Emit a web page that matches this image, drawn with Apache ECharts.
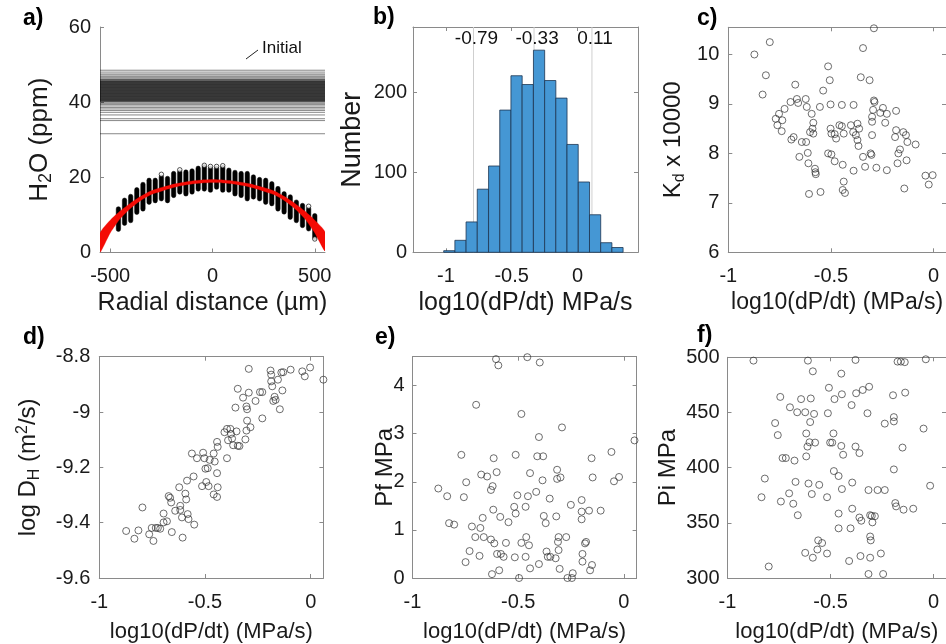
<!DOCTYPE html>
<html><head><meta charset="utf-8">
<script src="https://cdn.jsdelivr.net/npm/echarts@6/dist/echarts.min.js"></script>
<style>html,body{margin:0;padding:0;background:#fff}#c{width:946px;height:644px}</style>
</head><body><div id="c"></div>
<script>
// ---------- DATA ----------
// Panel a: initial H2O levels (ppm)
const initialLevels = [48.5,48.0,47.5,47.2,46.8,46.5,46.2,46.0,45.9,45.7,45.6,45.5,45.4,45.3,45.2,45.1,45.0,44.9,44.8,44.7,44.6,44.5,44.4,44.3,44.2,44.1,44.0,43.9,43.8,43.7,43.6,43.5,43.4,43.3,43.2,43.1,43.0,42.9,42.8,42.7,42.6,42.5,42.4,42.3,42.2,42.1,42.0,41.9,41.8,41.7,41.6,41.5,41.4,41.3,41.2,41.1,41.0,40.9,40.8,40.7,40.6,40.5,40.4,40.3,40.2,40.0,39.7,39.4,39.0,38.6,38.2,37.8,37.3,36.6,35.6,35.1,31.6];
// Panel a: measured profile columns (radial distance, min, max ppm)
const colX    = [-460,-430,-400,-370,-340,-310,-280,-250,-220,-190,-160,-130,-100,-70,-40,-10,20,50,80,110,140,170,200,230,260,290,320,350,380,410,440,470,500];
const colLow  = [6.0,7.6,8.3,10.5,11.4,13.2,13.6,14.1,13.6,15.0,15.9,15.4,15.9,16.7,16.7,16.4,17.2,16.4,16.4,15.4,15.0,14.1,14.6,14.1,13.2,12.8,11.4,10.6,9.2,8.3,7.0,6.1,3.8];
const colHigh = [11.8,14.1,15.1,16.9,18.3,19.4,19.4,20.3,19.9,21.2,21.6,21.6,21.9,22.6,23.0,22.6,22.6,22.8,22.1,21.5,21.2,21.2,20.3,19.6,19.4,18.5,17.2,15.8,15.0,13.6,12.7,11.8,10.0];
const outliers = [[-40,23.2],[-10,22.9],[20,22.9],[50,23.1],[-250,20.8],[470,12.3],[500,3.6],[-160,22.0]];
// Panel a: modelled profile envelope
const redX     = [-550,-500,-450,-400,-350,-300,-250,-200,-150,-100,-50,0,50,100,150,200,250,300,350,400,450,500,550];
const redLower = [0.0,5.2,9.1,11.8,13.85,15.4,16.3,17.15,17.8,18.25,18.5,18.6,18.5,18.25,17.8,17.15,16.3,15.4,13.85,11.8,9.1,5.2,0.4];
const redUpper = [5.2,8.6,11.1,13.2,14.95,16.4,17.3,18.05,18.6,19.05,19.3,19.4,19.3,19.05,18.6,18.05,17.3,16.4,14.95,13.2,11.1,8.6,5.5];
// Panel b: histogram
const binCenters = [-0.974,-0.889,-0.804,-0.719,-0.633,-0.548,-0.463,-0.378,-0.292,-0.207,-0.122,-0.037,0.049,0.134,0.219,0.304];
const binCounts  = [2,15,38,79,108,178,221,210,253,215,193,135,88,47,12,6];
const binWidth = 0.0853;
const pctValues = [-0.79,-0.33,0.11];
// Panel c: Kd x 10000
const cPts = [[-0.291,10.53],[-0.873,10.0],[-0.798,10.25],[-0.817,9.58],[-0.833,9.19],[-0.514,9.76],[-0.344,10.13],[-0.674,9.39],[-0.506,9.48],[-0.538,9.27],[-0.355,9.54],[-0.312,9.48],[-0.666,9.1],[-0.623,9.1],[-0.697,9.04],[-0.66,9.02],[-0.726,8.9],[-0.753,8.8],[-0.769,8.7],[-0.737,8.67],[-0.761,8.57],[-0.74,8.45],[-0.618,8.94],[-0.594,8.8],[-0.554,8.94],[-0.502,8.99],[-0.447,8.98],[-0.39,8.98],[-0.291,9.07],[-0.288,9.04],[-0.295,8.88],[-0.247,8.92],[-0.26,8.82],[-0.228,8.8],[-0.236,8.62],[-0.183,8.86],[-0.3,8.74],[-0.3,8.64],[-0.586,8.62],[-0.59,8.5],[-0.602,8.43],[-0.586,8.4],[-0.682,8.33],[-0.693,8.28],[-0.642,8.23],[-0.621,8.23],[-0.502,8.5],[-0.498,8.4],[-0.482,8.39],[-0.475,8.3],[-0.459,8.57],[-0.447,8.55],[-0.438,8.4],[-0.403,8.57],[-0.371,8.6],[-0.363,8.5],[-0.392,8.43],[-0.379,8.37],[-0.371,8.27],[-0.366,8.15],[-0.3,8.37],[-0.183,8.47],[-0.148,8.43],[-0.135,8.37],[-0.188,8.33],[-0.128,8.23],[-0.088,8.18],[-0.164,8.08],[-0.172,8.0],[-0.176,7.8],[-0.132,7.86],[-0.143,7.29],[-0.04,7.55],[-0.005,7.56],[-0.024,7.37],[-0.654,7.93],[-0.613,8.01],[-0.61,7.8],[-0.578,7.69],[-0.576,7.62],[-0.574,7.58],[-0.514,8.0],[-0.498,7.98],[-0.482,7.84],[-0.443,7.77],[-0.39,7.65],[-0.344,7.93],[-0.307,8.0],[-0.303,7.97],[-0.334,7.73],[-0.279,7.71],[-0.228,7.66],[-0.607,7.18],[-0.551,7.22],[-0.443,7.26],[-0.438,7.43],[-0.432,7.2]];
// Panel d: log DH
const dPts = [[-0.873,-9.43],[-0.834,-9.458],[-0.815,-9.428],[-0.796,-9.345],[-0.764,-9.442],[-0.752,-9.419],[-0.744,-9.466],[-0.733,-9.419],[-0.723,-9.419],[-0.712,-9.422],[-0.696,-9.399],[-0.68,-9.395],[-0.696,-9.367],[-0.657,-9.434],[-0.672,-9.304],[-0.665,-9.31],[-0.66,-9.327],[-0.641,-9.357],[-0.617,-9.354],[-0.622,-9.272],[-0.617,-9.339],[-0.609,-9.381],[-0.606,-9.454],[-0.593,-9.295],[-0.585,-9.248],[-0.589,-9.316],[-0.582,-9.369],[-0.578,-9.387],[-0.562,-9.15],[-0.551,-9.407],[-0.538,-9.167],[-0.554,-9.233],[-0.509,-9.147],[-0.503,-9.167],[-0.498,-9.205],[-0.487,-9.203],[-0.494,-9.253],[-0.514,-9.268],[-0.483,-9.268],[-0.478,-9.173],[-0.459,-9.15],[-0.454,-9.179],[-0.459,-9.298],[-0.443,-9.307],[-0.443,-9.221],[-0.44,-9.272],[-0.443,-9.108],[-0.44,-9.126],[-0.408,-9.073],[-0.396,-9.061],[-0.391,-9.102],[-0.396,-9.167],[-0.38,-9.061],[-0.377,-9.079],[-0.372,-9.096],[-0.367,-9.12],[-0.351,-9.07],[-0.345,-9.122],[-0.337,-9.123],[-0.356,-8.984],[-0.345,-8.916],[-0.32,-8.948],[-0.304,-8.98],[-0.301,-8.99],[-0.301,-9.031],[-0.304,-9.067],[-0.309,-9.099],[-0.293,-8.93],[-0.285,-9.055],[-0.293,-8.844],[-0.261,-8.96],[-0.24,-8.928],[-0.229,-8.928],[-0.229,-9.023],[-0.19,-8.85],[-0.187,-8.865],[-0.187,-8.889],[-0.182,-8.907],[-0.177,-8.96],[-0.171,-8.945],[-0.166,-8.956],[-0.155,-8.883],[-0.139,-8.857],[-0.13,-8.856],[-0.134,-8.922],[-0.146,-8.99],[-0.095,-8.847],[-0.04,-8.853],[-0.028,-8.871],[-0.003,-8.839],[0.06,-8.883]];
// Panel e: Pf MPa
const ePts = [[-0.878,1.86],[-0.836,1.70],[-0.827,1.14],[-0.803,1.11],[-0.769,2.56],[-0.746,1.99],[-0.757,1.68],[-0.730,0.56],[-0.749,0.33],[-0.719,1.07],[-0.703,0.85],[-0.679,1.04],[-0.683,0.46],[-0.668,1.25],[-0.663,0.85],[-0.699,3.60],[-0.675,2.15],[-0.647,2.11],[-0.629,1.83],[-0.621,1.91],[-0.629,0.80],[-0.618,1.42],[-0.616,2.49],[-0.602,2.20],[-0.613,0.72],[-0.624,0.08],[-0.605,4.55],[-0.594,4.42],[-0.60,0.50],[-0.585,1.27],[-0.582,0.50],[-0.59,0.16],[-0.569,0.44],[-0.558,0.73],[-0.546,1.16],[-0.512,2.56],[-0.519,1.48],[-0.512,1.34],[-0.504,1.72],[-0.516,0.43],[-0.496,0.0],[-0.485,0.73],[-0.485,3.41],[-0.465,1.48],[-0.462,0.85],[-0.465,0.44],[-0.454,1.70],[-0.449,0.68],[-0.444,2.18],[-0.457,4.59],[-0.444,0.20],[-0.415,1.79],[-0.41,2.53],[-0.402,2.93],[-0.398,4.48],[-0.402,0.29],[-0.385,2.03],[-0.382,2.53],[-0.379,1.29],[-0.37,1.14],[-0.366,0.55],[-0.36,0.44],[-0.351,1.65],[-0.348,0.44],[-0.32,1.28],[-0.323,0.41],[-0.316,2.25],[-0.316,2.06],[-0.30,2.09],[-0.312,0.75],[-0.309,0.85],[-0.309,0.58],[-0.304,0.19],[-0.293,3.13],[-0.273,0.85],[-0.251,1.52],[-0.267,0.0],[-0.242,0.10],[-0.246,0.0],[-0.2,1.62],[-0.2,1.38],[-0.2,1.22],[-0.196,0.50],[-0.196,0.34],[-0.184,0.72],[-0.179,0.75],[-0.165,1.40],[-0.16,0.16],[-0.153,2.49],[-0.148,2.09],[-0.151,0.27],[-0.11,1.40],[-0.059,2.62],[-0.047,2.01],[-0.023,2.10],[0.05,2.86]];
// Panel f: Pi MPa
const fPts = [[-0.874,497.0],[-0.80,310.4],[-0.835,373.2],[-0.819,390.1],[-0.744,464.1],[-0.769,440.4],[-0.756,429.5],[-0.741,369.3],[-0.733,408.7],[-0.717,408.7],[-0.701,376.7],[-0.681,367.3],[-0.675,406.4],[-0.697,454.7],[-0.670,387.1],[-0.662,450.2],[-0.659,356.9],[-0.643,462.1],[-0.623,450.2],[-0.618,431.0],[-0.618,410.2],[-0.612,419.1],[-0.602,423.0],[-0.607,385.6],[-0.623,322.8],[-0.61,497.0],[-0.599,441.3],[-0.596,462.7],[-0.586,487.3],[-0.586,318.4],[-0.58,448.7],[-0.575,422.7],[-0.591,376.1],[-0.56,334.1],[-0.555,384.4],[-0.541,331.7],[-0.564,325.8],[-0.517,322.2],[-0.513,449.3],[-0.508,472.4],[-0.517,373.2],[-0.502,422.7],[-0.492,422.7],[-0.486,431.0],[-0.484,396.9],[-0.481,462.1],[-0.461,392.4],[-0.461,358.4],[-0.461,345.0],[-0.448,485.2],[-0.445,466.5],[-0.448,419.7],[-0.445,380.6],[-0.439,411.7],[-0.41,315.4],[-0.403,345.0],[-0.398,456.7],[-0.395,386.5],[-0.395,362.8],[-0.379,497.6],[-0.376,467.4],[-0.379,419.1],[-0.36,413.2],[-0.36,354.8],[-0.351,351.9],[-0.355,319.9],[-0.344,470.4],[-0.321,449.3],[-0.313,473.3],[-0.316,379.7],[-0.308,356.9],[-0.30,356.3],[-0.297,350.4],[-0.308,337.6],[-0.305,334.1],[-0.308,318.4],[-0.316,303.6],[-0.285,356.0],[-0.272,379.7],[-0.256,322.2],[-0.245,303.6],[-0.237,379.7],[-0.237,439.9],[-0.193,398.4],[-0.197,465.6],[-0.193,445.8],[-0.193,441.9],[-0.186,367.9],[-0.182,364.9],[-0.175,496.1],[-0.159,496.1],[-0.14,495.6],[-0.151,418.2],[-0.146,361.9],[-0.138,468.0],[-0.099,362.8],[-0.049,435.4],[-0.038,498.2],[-0.017,383.6]];
// Tick labels
const aXTicks = [-500,0,500], aYTicks = [0,20,40,60];
const bXTicks = [-1,-0.5,0], bYTicks = [0,100,200];
const sXTicks = [-1,-0.5,0];
const cYTicks = [6,7,8,9,10], dYTicks = [-9.6,-9.4,-9.2,-9,-8.8], eYTicks = [0,1,2,3,4], fYTicks = [300,350,400,450,500];

// ---------- STYLE ----------
const FONT = '"Liberation Sans", Arial, Helvetica, sans-serif';
const AX = '#8a8a8a', TXT = '#1a1a1a';
const TICK_FS = 20;

const grids = [
  {left:100, top:27, width:225, height:225.5},
  {left:413, top:27, width:225, height:225.3},
  {left:728.3, top:27.3, width:224.1, height:225},
  {left:99.3, top:356.7, width:224.1, height:225},
  {left:412.5, top:356.7, width:224.1, height:225},
  {left:727.5, top:357.3, width:224.1, height:225}
];
function richName(fs){
  const sf = Math.round(fs*0.68);
  return {
    n:{fontSize:fs, fontFamily:FONT, color:TXT, lineHeight:fs+4},
    s:{fontSize:sf, fontFamily:FONT, color:TXT, verticalAlign:'bottom', lineHeight:sf},
    p:{fontSize:sf, fontFamily:FONT, color:TXT, verticalAlign:'top', lineHeight:sf}
  };
}
function axis(gi, min, max, ticks, pos, name, gap, labelMargin, nameFs, labelPad){
  const show = (pos==='bottom'||pos==='left');
  const fs = nameFs || 22;
  return {
    type:'value', gridIndex:gi, min:min, max:max, position:pos,
    name: name||'', nameLocation:'middle', nameGap:gap||0, nameMoveOverlap:false,
    nameTextStyle:{fontSize:fs, fontFamily:FONT, color:TXT, rich:richName(fs)},
    axisLine:{show:true, onZero:false, lineStyle:{color:AX, width:1}},
    axisTick:{show:true, inside:true, length:4, customValues:ticks, lineStyle:{color:AX, width:1}},
    axisLabel:{show:show, customValues:ticks, color:TXT, fontSize:TICK_FS, fontFamily:FONT, margin:labelMargin||8, padding:labelPad||0},
    splitLine:{show:false}
  };
}
const xAxes = [
  axis(0,-550,550,aXTicks,'bottom','Radial distance (µm)',38,14,25),
  axis(1,-1.25,0.46,bXTicks,'bottom','log10(dP/dt) MPa/s',38,14,25),
  axis(2,-1,0.06,sXTicks,'bottom','log10(dP/dt) (MPa/s)',39,14,23),
  axis(3,-1,0.06,sXTicks,'bottom','log10(dP/dt) (MPa/s)',43,14,22),
  axis(4,-1,0.06,sXTicks,'bottom','log10(dP/dt) (MPa/s)',43,14,22),
  axis(5,-1,0.06,sXTicks,'bottom','log10(dP/dt) (MPa/s)',43,14,22),
  axis(1,-1.25,0.46,bXTicks,'top'),
  axis(2,-1,0.06,sXTicks,'top'),
  axis(3,-1,0.06,sXTicks,'top'),
  axis(4,-1,0.06,sXTicks,'top'),
  axis(5,-1,0.06,sXTicks,'top')
];
const yAxes = [
  axis(0,0,60,aYTicks,'left','{n|H}{s|2}{n|O (ppm)}',45,9,26,[7,0,0,0]),
  axis(1,0,282,bYTicks,'left','Number',47,6,27),
  axis(2,6,10.55,cYTicks,'left','{n|K}{s|d}{n| x 10000}',41,9,24),
  axis(3,-9.6,-8.8,dYTicks,'left','{n|log D}{s|H}{n| (m}{p|2}{n|/s)}',57,9,24),
  axis(4,0,4.6,eYTicks,'left','Pf MPa',15,8,24),
  axis(5,300,500,fYTicks,'left','Pi MPa',47,8,24),
  axis(1,0,282,bYTicks,'right'),
  axis(2,6,10.55,cYTicks,'right'),
  axis(3,-9.6,-8.8,dYTicks,'right'),
  axis(4,0,4.6,eYTicks,'right'),
  axis(5,300,500,fYTicks,'right')
];

function scatter(idx, pts){
  return {type:'scatter', xAxisIndex:idx, yAxisIndex:idx, data:pts, symbol:'circle', symbolSize:7,
    itemStyle:{color:'rgba(0,0,0,0)', borderColor:'#333', borderWidth:0.9}, silent:true, animation:false};
}

const series = [
  {type:'custom', xAxisIndex:0, yAxisIndex:0, data:initialLevels.map(v=>[0,v]), encode:{x:0,y:1}, z:2, animation:false,
   renderItem:(params, api)=>{
     const p = api.coord([api.value(0), api.value(1)]); const cs = params.coordSys;
     return {type:'line', shape:{x1:cs.x, y1:p[1], x2:cs.x+cs.width, y2:p[1]}, style:{stroke:'#000', lineWidth:0.8, opacity:0.6}};
   }},
  {type:'custom', xAxisIndex:0, yAxisIndex:0, data:colX.map((x,i)=>[x,colLow[i],colHigh[i]]), encode:{x:0,y:[1,2]}, z:3, animation:false,
   renderItem:(params, api)=>{
     const t = api.coord([api.value(0), api.value(2)]); const b = api.coord([api.value(0), api.value(1)]);
     return {type:'rect', shape:{x:t[0]-2.2, y:t[1]-1.5, width:4.4, height:b[1]-t[1]+3, r:2.2}, style:{fill:'#000', stroke:'#000', lineWidth:0.5}};
   }},
  {type:'scatter', xAxisIndex:0, yAxisIndex:0, data:outliers, symbol:'circle', symbolSize:4.5, z:3,
   itemStyle:{color:'#fff', borderColor:'#111', borderWidth:0.9}, animation:false},
  {type:'custom', xAxisIndex:0, yAxisIndex:0, data:redX.map((x,i)=>[x,redLower[i],redUpper[i]]), encode:{x:0,y:[1,2]}, z:4, animation:false, clip:true,
   renderItem:(params, api)=>{
     if (params.dataIndex !== 0) return null;
     const up = redX.map((x,i)=>api.coord([x, redUpper[i]]));
     const lo = redX.map((x,i)=>api.coord([x, redLower[i]])).reverse();
     return {type:'polygon', shape:{points:up.concat(lo), smooth:0.2}, style:{fill:'#f40b05', stroke:'#f40b05', lineWidth:0.3}};
   }},
  {type:'custom', xAxisIndex:1, yAxisIndex:1, data:pctValues.map(v=>[v,0]), encode:{x:0,y:1}, z:1, animation:false,
   renderItem:(params, api)=>{
     const v = api.value(0); const p = api.coord([v,0]); const cs = params.coordSys;
     return {type:'group', children:[
       {type:'line', shape:{x1:p[0], y1:cs.y, x2:p[0], y2:cs.y+cs.height}, style:{stroke:'#cfcfcf', lineWidth:1}},
       {type:'text', x:p[0]+3, y:cs.y+12, style:{text:v.toFixed(2), fontSize:19, fontFamily:FONT, fill:'#111', align:'center', verticalAlign:'middle'}}
     ]};
   }},
  {type:'custom', xAxisIndex:1, yAxisIndex:1, data:binCenters.map((c,i)=>[c,binCounts[i]]), encode:{x:0,y:1}, z:3, animation:false,
   renderItem:(params, api)=>{
     const c = api.value(0), n = api.value(1);
     const tl = api.coord([c-binWidth/2, n]); const br = api.coord([c+binWidth/2, 0]);
     return {type:'rect', shape:{x:tl[0], y:tl[1], width:br[0]-tl[0], height:br[1]-tl[1]}, style:{fill:'#4597d4', stroke:'#1d3550', lineWidth:0.8}};
   }},
  scatter(2, cPts), scatter(3, dPts), scatter(4, ePts), scatter(5, fPts)
];

const letter = (t,x,y)=>({type:'text', x:x, y:y, style:{text:t, fontSize:23, fontWeight:'bold', fontFamily:FONT, fill:'#000', verticalAlign:'middle'}});
const option = {
  backgroundColor:'#fff', animation:false,
  grid: grids,
  xAxis: xAxes, yAxis: yAxes, series: series,
  graphic: [
    letter('a)',23,19), letter('b)',373,18), letter('c)',697,19),
    letter('d)',23,338), letter('e)',375,338), letter('f)',697,336),
    {type:'text', x:262, y:48, style:{text:'Initial', fontSize:17, fontFamily:FONT, fill:'#111', verticalAlign:'middle'}},
    {type:'line', shape:{x1:246, y1:59, x2:258, y2:50}, style:{stroke:'#222', lineWidth:1}}
  ]
};
const chart = echarts.init(document.getElementById('c'), null, {renderer:'canvas'});
chart.setOption(option);
</script></body></html>
